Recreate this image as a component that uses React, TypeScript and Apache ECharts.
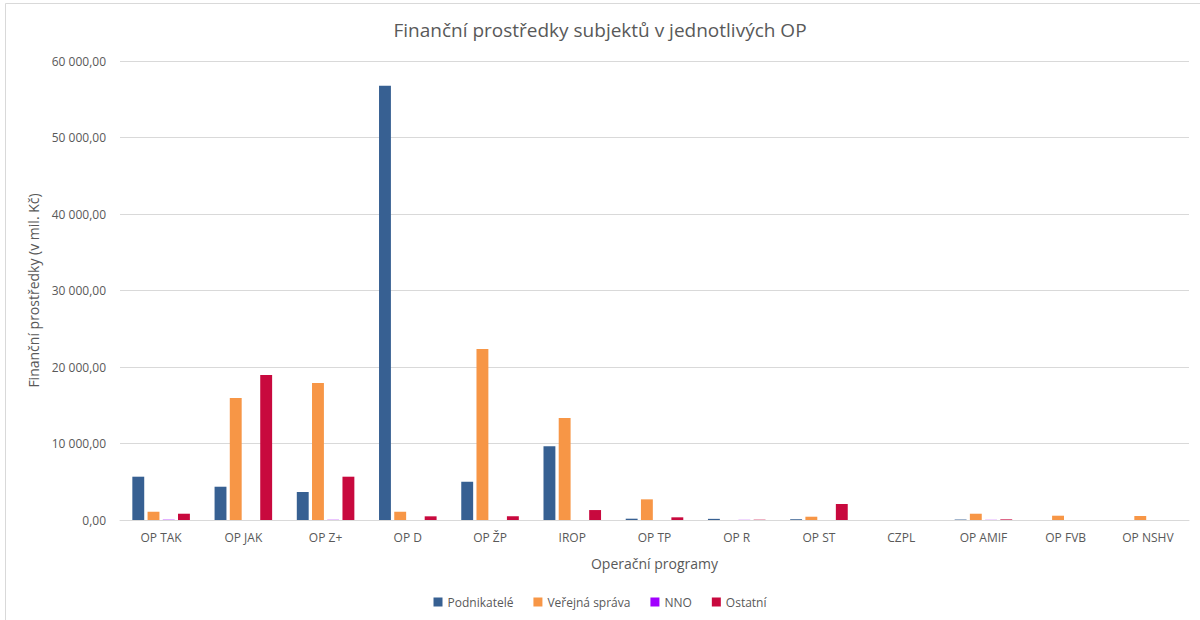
import React, { useEffect, useRef } from "react";
import * as echarts from "echarts";

const categories = ["OP TAK", "OP JAK", "OP Z+", "OP D", "OP ŽP", "IROP", "OP TP", "OP R", "OP ST", "CZPL", "OP AMIF", "OP FVB", "OP NSHV"];
const podnikatele = [5660, 4350, 3660, 56750, 5000, 9630, 170, 150, 100, 0, 60, 0, 0];
const verejnaSprava = [1080, 15950, 17900, 1080, 22350, 13330, 2700, 0, 430, 0, 820, 560, 520];
const nno = [40, 0, 30, 0, 0, 0, 0, 20, 0, 0, 20, 0, 0];
const ostatni = [820, 18950, 5660, 480, 480, 1300, 350, 40, 2090, 0, 80, 0, 0];
const seriesNames = ["Podnikatelé", "Veřejná správa", "NNO", "Ostatní"];
const colors = ["#376092", "#F79646", "#A100FF", "#C8093E"];

const fmt = (v: number) => {
  const s = Math.round(v).toString().replace(/\B(?=(\d{3})+(?!\d))/g, " ");
  return s + ",00";
};

export default function App() {
  const ref = useRef<HTMLDivElement>(null);
  useEffect(() => {
    if (!ref.current) return;
    const chart = echarts.init(ref.current, null, { renderer: "svg" });
    const font = "'Open Sans', 'Noto Sans', sans-serif";
    const data = [podnikatele, verejnaSprava, nno, ostatni];
    chart.setOption({
      animation: false,
      textStyle: { fontFamily: font },
      title: {
        text: "Finanční prostředky subjektů v jednotlivých OP",
        left: "center",
        top: 15,
        textStyle: { fontSize: 19, fontWeight: "normal", color: "#595959", fontFamily: font },
      },
      graphic: [
        {
          type: "rect",
          shape: { x: 5.5, y: 3.5, width: 1210, height: 630 },
          style: { fill: "none", stroke: "#D9D9D9", lineWidth: 1 },
          silent: true,
        },
      ],
      legend: {
        bottom: 7,
        left: "center",
        itemWidth: 9,
        itemHeight: 9,
        itemGap: 20,
        icon: "rect",
        textStyle: { fontSize: 12, color: "#595959", fontFamily: font },
        data: seriesNames,
      },
      grid: { left: 120, right: 11, top: 61, bottom: 100 },
      xAxis: {
        type: "category",
        data: categories,
        name: "Operační programy",
        nameLocation: "middle",
        nameGap: 36,
        nameTextStyle: { fontSize: 14, color: "#595959", fontFamily: font },
        axisLine: { lineStyle: { color: "#D9D9D9" } },
        axisTick: { show: false },
        axisLabel: { color: "#595959", fontSize: 12, margin: 11, fontFamily: font },
      },
      yAxis: {
        type: "value",
        min: 0,
        max: 60000,
        interval: 10000,
        name: "Finanční prostředky (v mil. Kč)",
        nameLocation: "middle",
        nameGap: 80,
        nameTextStyle: { fontSize: 14, color: "#595959", fontFamily: font },
        axisLine: { show: false },
        axisTick: { show: false },
        axisLabel: { color: "#595959", fontSize: 12, margin: 14, formatter: fmt, fontFamily: font },
        splitLine: { lineStyle: { color: "#D9D9D9" } },
      },
      series: seriesNames.map((n, i) => ({
        name: n,
        type: "bar",
        data: data[i],
        itemStyle: { color: colors[i] },
        barGap: "28%",
        barCategoryGap: "30%",
      })),
    });
    return () => chart.dispose();
  }, []);
  return <div ref={ref} style={{ position: "absolute", left: 0, top: 0, width: 1200, height: 620 }} />;
}
